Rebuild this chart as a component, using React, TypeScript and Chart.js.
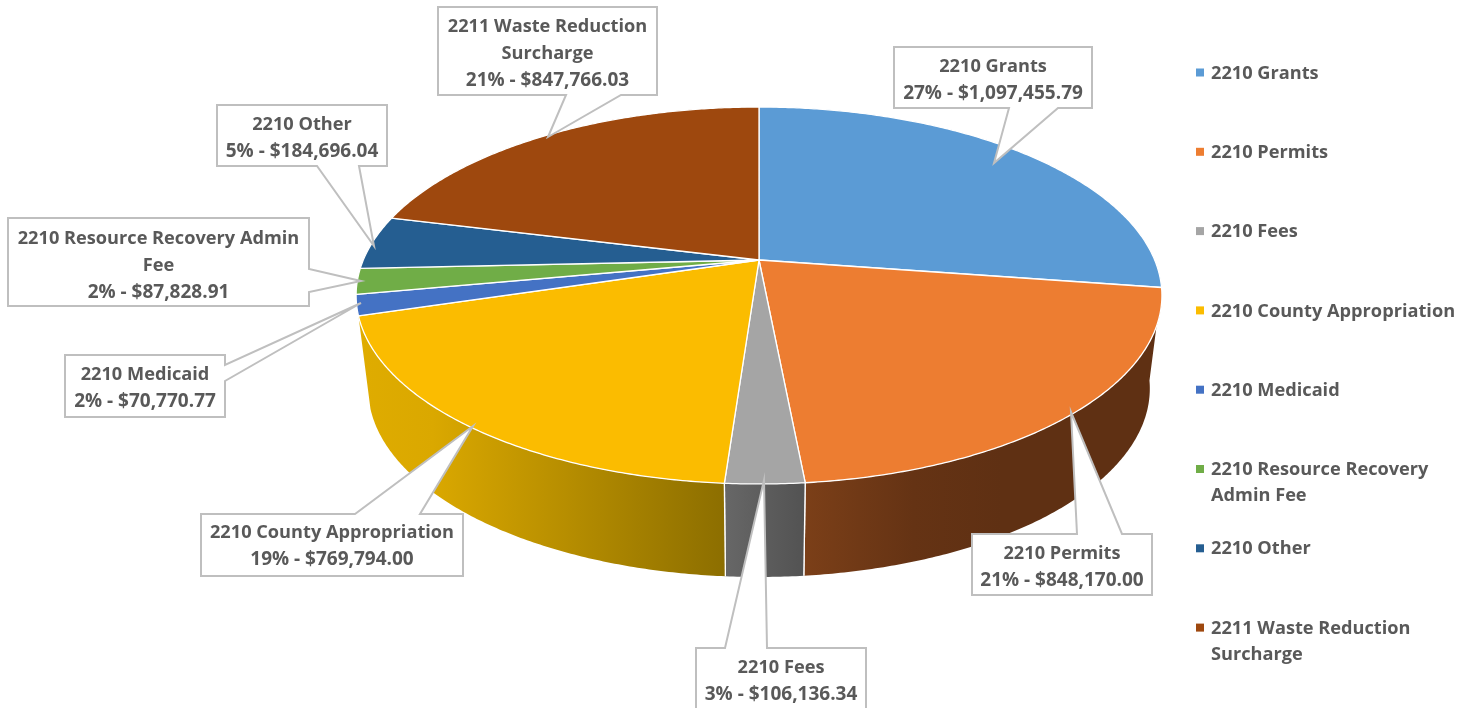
import React, { useEffect, useRef } from "react";
import { Chart, registerables, ArcElement, PieController } from "chart.js";

const categories = ["2210 Grants", "2210 Permits", "2210 Fees", "2210 County Appropriation", "2210 Medicaid", "2210 Resource Recovery Admin Fee", "2210 Other", "2211 Waste Reduction Surcharge"];
const amounts = [1097455.79, 848170.0, 106136.34, 769794.0, 70770.77, 87828.91, 184696.04, 847766.03];
const percents = [27, 21, 3, 19, 2, 2, 5, 21];
const calloutNames = [["2210 Grants"], ["2210 Permits"], ["2210 Fees"], ["2210 County Appropriation"], ["2210 Medicaid"], ["2210 Resource Recovery Admin", "Fee"], ["2210 Other"], ["2211 Waste Reduction", "Surcharge"]];
const legendNames = [["2210 Grants"], ["2210 Permits"], ["2210 Fees"], ["2210 County Appropriation"], ["2210 Medicaid"], ["2210 Resource Recovery", "Admin Fee"], ["2210 Other"], ["2211 Waste Reduction", "Surcharge"]];
const colors = ["#5b9bd5", "#ed7d31", "#a5a5a5", "#fbbc00", "#4472c4", "#70ad47", "#255e91", "#9e480e"];

const FONT = '700 18.2px "Open Sans", sans-serif';
const VALUE_FONT = '700 19px "Open Sans", sans-serif';
const TEXT = "#595959";
const LINE = 27;

// Perspective disc: (u, v) on the unit circle goes to the page.
const CX = 759, APEX_Y = 260, AX = 395.7, BY = 181.8, K = 0.1883, DEPTH = 93, BOTTOM_SCALE = 0.97;
const top3d = (a: number) => {
  const u = Math.cos(a), v = Math.sin(a), w = 1 - K * v;
  return [CX + (AX * u) / w, APEX_Y + (BY * v) / w];
};
const bottom3d = (a: number) => {
  const u = Math.cos(a), v = Math.sin(a), w = 1 - K * v;
  return [CX + (AX * BOTTOM_SCALE * u) / w, APEX_Y + DEPTH + (BY * v) / w];
};
const STEP = Math.PI / 360;
const rim = (s: number, e: number, f: (a: number) => number[]) => {
  const n = Math.max(2, Math.ceil((e - s) / STEP));
  const out: number[][] = [];
  for (let i = 0; i <= n; i++) out.push(f(s + ((e - s) * i) / n));
  return out;
};

// Side-wall shading for each slice: [from x, to x, stops]
const wallShades: [number, number, [number, string][]][] = [
  [360, 1160, [[0, "#3c6a96"], [1, "#3c6a96"]]],
  [806, 1162, [[0, "#7b3f18"], [0.3, "#653314"], [0.55, "#5f3013"], [1, "#5f3013"]]],
  [725, 806, [[0, "#676767"], [1, "#525252"]]],
  [360, 726, [[0, "#dfac00"], [0.2, "#daa800"], [1, "#8c6e00"]]],
  [360, 380, [[0, "#33538f"], [1, "#33538f"]]],
  [360, 380, [[0, "#55853a"], [1, "#55853a"]]],
  [360, 400, [[0, "#1c4770"], [1, "#1c4770"]]],
  [360, 760, [[0, "#77360a"], [1, "#77360a"]]],
];

class Arc3D extends ArcElement {
  static id = "arc3d";
  draw(ctx: CanvasRenderingContext2D) {
    const el: any = this;
    const pts = rim(el.startAngle, el.endAngle, top3d);
    ctx.save();
    ctx.beginPath();
    ctx.moveTo(CX, APEX_Y);
    pts.forEach((p) => ctx.lineTo(p[0], p[1]));
    ctx.closePath();
    ctx.fillStyle = el.options.backgroundColor;
    ctx.fill();
    ctx.lineWidth = 1.3;
    ctx.lineJoin = "round";
    ctx.strokeStyle = "#ffffff";
    ctx.stroke();
    ctx.restore();
  }
}

class Pie3DController extends PieController {
  static id = "pie3d";
  static defaults = { dataElementType: "arc3d" };
  draw() {
    const ctx: CanvasRenderingContext2D = (this as any).chart.ctx;
    const els: any[] = (this as any)._cachedMeta.data;
    els.forEach((el, i) => {
      // Only slices that face the viewer show a side wall.
      if (Math.sin((el.startAngle + el.endAngle) / 2) < 0.3) return;
      const upper = rim(el.startAngle, el.endAngle, top3d);
      const lower = rim(el.startAngle, el.endAngle, bottom3d).reverse();
      const [x0, x1, stops] = wallShades[i];
      const g = ctx.createLinearGradient(x0, 0, x1, 0);
      stops.forEach(([o, c]) => g.addColorStop(o, c));
      ctx.save();
      ctx.beginPath();
      upper.concat(lower).forEach((p, j) => (j ? ctx.lineTo(p[0], p[1]) : ctx.moveTo(p[0], p[1])));
      ctx.closePath();
      ctx.fillStyle = g;
      ctx.fill();
      ctx.strokeStyle = "#ffffff";
      ctx.lineWidth = 1.3;
      [el.startAngle, el.endAngle].forEach((a) => {
        if (Math.sin(a) > 0.5) {
          const t = top3d(a), b = bottom3d(a);
          ctx.beginPath();
          ctx.moveTo(t[0], t[1]);
          ctx.lineTo(b[0], b[1]);
          ctx.stroke();
        }
      });
      ctx.restore();
    });
    super.draw();
  }
}

Chart.register(...registerables, Arc3D, Pie3DController);

// Callout boxes: left, top, right, bottom, attached side, two base positions, pointer tip, first text line y.
type Box = { l: number; t: number; r: number; b: number; side: "top" | "bottom" | "right"; p1: number; p2: number; tip: number[]; y: number };
const boxes: Box[] = [
  { l: 894, t: 47, r: 1092, b: 108, side: "bottom", p1: 1009, p2: 1058, tip: [994, 163], y: 67 },
  { l: 972, t: 534, r: 1152, b: 595, side: "top", p1: 1077, p2: 1122, tip: [1071, 412], y: 554 },
  { l: 696, t: 648, r: 866, b: 712, side: "top", p1: 725, p2: 767, tip: [764, 480], y: 668 },
  { l: 201, t: 514, r: 463, b: 576, side: "top", p1: 355, p2: 420, tip: [473, 426], y: 533 },
  { l: 65, t: 355, r: 225, b: 417, side: "right", p1: 365, p2: 381, tip: [361, 303], y: 375 },
  { l: 8, t: 218, r: 309, b: 306, side: "right", p1: 269, p2: 292, tip: [361, 281], y: 239 },
  { l: 217, t: 105, r: 387, b: 166, side: "bottom", p1: 317, p2: 359, tip: [374, 246], y: 125 },
  { l: 438, t: 7, r: 657, b: 95, side: "bottom", p1: 566, p2: 621, tip: [548, 137], y: 27 },
];

const money = (n: number) => "$" + n.toLocaleString("en-US", { minimumFractionDigits: 2, maximumFractionDigits: 2 });

const annotations = {
  id: "annotations",
  afterDraw(chart: any) {
    const ctx: CanvasRenderingContext2D = chart.ctx;
    ctx.save();
    ctx.textBaseline = "middle";

    boxes.forEach((q, i) => {
      const { l, t, r, b, p1, p2, tip } = q;
      ctx.beginPath();
      ctx.moveTo(l, t);
      if (q.side === "top") { ctx.lineTo(p1, t); ctx.lineTo(tip[0], tip[1]); ctx.lineTo(p2, t); }
      ctx.lineTo(r, t);
      if (q.side === "right") { ctx.lineTo(r, p1); ctx.lineTo(tip[0], tip[1]); ctx.lineTo(r, p2); }
      ctx.lineTo(r, b);
      if (q.side === "bottom") { ctx.lineTo(p2, b); ctx.lineTo(tip[0], tip[1]); ctx.lineTo(p1, b); }
      ctx.lineTo(l, b);
      ctx.closePath();
      ctx.fillStyle = "#ffffff";
      ctx.fill();
      ctx.strokeStyle = "#bfbfbf";
      ctx.lineWidth = 2;
      ctx.lineJoin = "miter";
      ctx.stroke();

      const names = calloutNames[i];
      const value = `${percents[i]}% - ${money(amounts[i])}`;
      ctx.fillStyle = TEXT;
      ctx.textAlign = "center";
      ctx.font = FONT;
      names.forEach((s, j) => ctx.fillText(s, (l + r) / 2, q.y + j * LINE));
      ctx.font = VALUE_FONT;
      ctx.fillText(value, (l + r) / 2, q.y + names.length * LINE);
    });

    // Legend
    ctx.font = FONT;
    ctx.textAlign = "left";
    legendNames.forEach((lines, i) => {
      const y = 72.5 + i * 79.3;
      ctx.fillStyle = colors[i];
      ctx.fillRect(1196, y - 4, 8, 8);
      ctx.fillStyle = TEXT;
      lines.forEach((s, j) => ctx.fillText(s, 1211, y + 1 + j * 26));
    });
    ctx.restore();
  },
};

export default function App() {
  const ref = useRef<HTMLCanvasElement>(null);
  useEffect(() => {
    const chart = new Chart(ref.current as HTMLCanvasElement, {
      type: "pie3d" as any,
      data: {
        labels: categories,
        datasets: [{ data: amounts, backgroundColor: colors, borderWidth: 0 }],
      },
      options: {
        animation: false,
        responsive: false,
        plugins: { legend: { display: false }, tooltip: { enabled: false } },
      },
      plugins: [annotations],
    } as any);
    return () => chart.destroy();
  }, []);
  return <canvas ref={ref} width={1473} height={708} style={{ position: "absolute", left: 0, top: 0, display: "block" }} />;
}
